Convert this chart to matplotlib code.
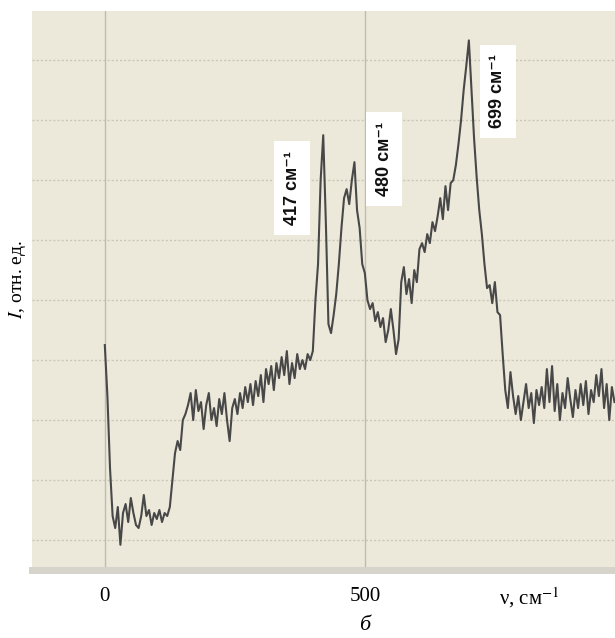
import numpy as np
import matplotlib
matplotlib.use("Agg")
import matplotlib.pyplot as plt
import matplotlib.transforms as mtransforms

plt.rcParams["mathtext.fontset"] = "stix"

# --- spectrum data (wavenumber step 5 cm^-1), intensity in arbitrary units ---
nu = np.arange(0, 985, 5)
intensity = [
    4.25, 3.4, 2.2, 1.4, 1.2, 1.55, 0.92, 1.45, 1.6, 1.3,
    1.7, 1.45, 1.25, 1.2, 1.4, 1.75, 1.4, 1.5, 1.25, 1.45,
    1.35, 1.5, 1.3, 1.45, 1.4, 1.55, 2.0, 2.45, 2.65, 2.5,
    3.0, 3.1, 3.25, 3.45, 3.0, 3.5, 3.15, 3.3, 2.85, 3.25,
    3.45, 3.0, 3.2, 2.9, 3.35, 3.1, 3.45, 3.0, 2.65, 3.2,
    3.35, 3.1, 3.45, 3.2, 3.55, 3.3, 3.6, 3.25, 3.65, 3.4,
    3.75, 3.3, 3.85, 3.6, 3.9, 3.5, 3.95, 3.7, 4.05, 3.75,
    4.15, 3.6, 3.95, 3.7, 4.1, 3.85, 4.0, 3.85, 4.1, 4.0,
    4.15, 5.0, 5.6, 7.0, 7.75, 6.3, 4.6, 4.45, 4.75, 5.1,
    5.6, 6.2, 6.7, 6.85, 6.6, 7.0, 7.3, 6.5, 6.2, 5.6,
    5.45, 5.0, 4.85, 4.95, 4.65, 4.8, 4.55, 4.7, 4.3, 4.5,
    4.85, 4.5, 4.1, 4.35, 5.3, 5.55, 5.1, 5.35, 4.95, 5.5,
    5.3, 5.85, 5.95, 5.8, 6.1, 5.95, 6.3, 6.15, 6.4, 6.7,
    6.35, 6.9, 6.5, 6.95, 7.0, 7.25, 7.6, 8.0, 8.5, 8.9,
    9.33, 8.5, 7.7, 7.05, 6.5, 6.1, 5.6, 5.2, 5.25, 4.95,
    5.3, 4.8, 4.75, 4.1, 3.5, 3.2, 3.8, 3.4, 3.1, 3.4,
    3.0, 3.3, 3.6, 3.2, 3.45, 2.95, 3.5, 3.25, 3.55, 3.2,
    3.85, 3.3, 3.9, 3.15, 3.6, 3.0, 3.45, 3.2, 3.7, 3.35,
    3.05, 3.5, 3.2, 3.6, 3.25, 3.65, 3.1, 3.5, 3.3, 3.75,
    3.4, 3.85, 3.2, 3.6, 3.0, 3.55, 3.3,
]

peak_labels = ["417 см⁻¹", "480 см⁻¹", "699 см⁻¹"]
peak_label_x = [360, 537, 756]
peak_label_y = [6.87, 7.35, 8.48]

x_ticks = [0, 500]

fig = plt.figure(figsize=(6.15, 6.38), dpi=100)
ax = fig.add_axes([32 / 615, 1 - 570 / 638, 1 - 32 / 615, (570 - 11) / 638])
ax.set_facecolor("#ece8da")

ax.set_xlim(-140, 981)
ax.set_ylim(0.5, 9.82)

# grid
for yv in range(1, 10):
    ax.axhline(yv, color="#cbc7b8", lw=1.0, ls=(0, (1.5, 1.5)), zorder=1)
for xv in x_ticks:
    ax.axvline(xv, color="#bfbbad", lw=1.0, zorder=1)

ax.plot(nu, intensity, color="#484848", lw=1.5, zorder=3)

for lab, lx, ly in zip(peak_labels, peak_label_x, peak_label_y):
    ax.text(lx, ly, lab, rotation=90, ha="center", va="center", fontsize=13,
            weight="bold", family=["Liberation Sans", "DejaVu Sans"], color="#111111",
            zorder=4, bbox=dict(facecolor="white", edgecolor="none", pad=7))

for side in ["top", "left", "right"]:
    ax.spines[side].set_visible(False)
ax.spines["bottom"].set_color("#d6d3cb")
ax.spines["bottom"].set_linewidth(5)

ax.set_yticks([])
ax.set_xticks(x_ticks)
ax.set_xticklabels([str(t) for t in x_ticks], family="Liberation Serif", fontsize=15)
ax.tick_params(axis="x", length=0, pad=12)

trans = mtransforms.blended_transform_factory(ax.transData, fig.transFigure)
ax.text(817, 1 - 598 / 638, "ν, см$^{-1}$", transform=trans, ha="center", va="center",
        fontsize=15, family="Liberation Serif")

fig.text(365 / 615, 1 - 626 / 638, "б", ha="center", va="center", fontsize=16,
         style="italic", family="Liberation Serif")
fig.text(18 / 615, 1 - 280 / 638, "$I$, отн. ед.", rotation=90, ha="center", va="center",
         fontsize=14, family="Liberation Serif")

fig.savefig("out.png", dpi=100, facecolor="white")
